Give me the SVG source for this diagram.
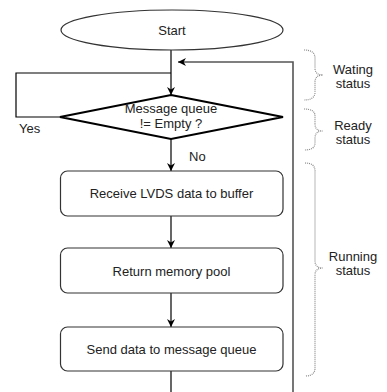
<svg xmlns="http://www.w3.org/2000/svg" width="387" height="392" viewBox="0 0 387 392">
  <style>
    text { font-family: "Liberation Sans", Arial, sans-serif; font-size: 13px; fill: #222; }
    .c { text-anchor: middle; }
    .box { fill: #fff; stroke: #333; stroke-width: 1.2; }
    .flow { fill: none; stroke: #000; stroke-width: 1.2; }
    .back { fill: none; stroke: #555; stroke-width: 1.6; }
    .brace { fill: none; stroke: #888; stroke-width: 1.2; stroke-dasharray: 1 1; }
  </style>
  <defs>
    <marker id="arrow" viewBox="0 0 10 10" refX="10" refY="5" markerWidth="8" markerHeight="8" markerUnits="userSpaceOnUse" orient="auto">
      <path d="M0,0 L10,5 L0,10 L3,5 Z" fill="#000"/>
    </marker>
  </defs>
  <rect width="387" height="392" fill="#fff"/>

  <g id="connectors">
    <line class="flow" x1="171" y1="50" x2="171" y2="95" marker-end="url(#arrow)"/>
    <polyline class="back" points="293,392 293,62 178,62" marker-end="url(#arrow)"/>
    <polyline class="flow" points="60,117 16,117 16,73 171,73"/>
    <line class="flow" x1="171" y1="139" x2="171" y2="171" marker-end="url(#arrow)"/>
    <line class="flow" x1="171" y1="216" x2="171" y2="248" marker-end="url(#arrow)"/>
    <line class="flow" x1="171" y1="293" x2="171" y2="327" marker-end="url(#arrow)"/>
    <line class="flow" x1="171" y1="371" x2="171" y2="392"/>
    <text x="19" y="133">Yes</text>
    <text x="189" y="161">No</text>
  </g>

  <g id="start">
    <ellipse class="box" cx="172" cy="30" rx="111" ry="20"/>
    <text class="c" x="172" y="34.5">Start</text>
  </g>

  <g id="decision">
    <polygon points="171,95 283,117 171,139 60,117" fill="#fff" stroke="#000" stroke-width="2.2" stroke-linejoin="miter"/>
    <text class="c" x="171" y="113">Message queue</text>
    <text class="c" x="171" y="127.5">!= Empty ?</text>
  </g>

  <g id="receive">
    <rect class="box" x="60.5" y="171" width="222.5" height="45" rx="7"/>
    <text class="c" x="171.5" y="197.5">Receive LVDS data to buffer</text>
  </g>

  <g id="return">
    <rect class="box" x="60.5" y="248" width="222.5" height="45" rx="7"/>
    <text class="c" x="171.5" y="275.5">Return memory pool</text>
  </g>

  <g id="send">
    <rect class="box" x="60.5" y="327" width="222.5" height="44" rx="7"/>
    <text class="c" x="171.5" y="353.5">Send data to message queue</text>
  </g>

  <g id="waiting">
    <path class="brace" d="M304,50 Q315,50 315,58 L315,68 Q315,75 323,75 Q315,75 315,82 L315,92 Q315,100 304,100"/>
    <text class="c" x="353" y="74">Wating</text>
    <text class="c" x="353" y="88">status</text>
  </g>

  <g id="ready">
    <path class="brace" d="M304,109 Q315,109 315,116 L315,124 Q315,131 323,131 Q315,131 315,138 L315,143 Q315,150 304,150"/>
    <text class="c" x="353" y="130">Ready</text>
    <text class="c" x="353" y="144">status</text>
  </g>

  <g id="running">
    <path class="brace" d="M305,163 Q315,163 315,171 L315,261 Q315,268 323,268 Q315,268 315,275 L315,368 Q315,376 305,376"/>
    <text class="c" x="353" y="261">Running</text>
    <text class="c" x="353" y="275">status</text>
  </g>
</svg>
